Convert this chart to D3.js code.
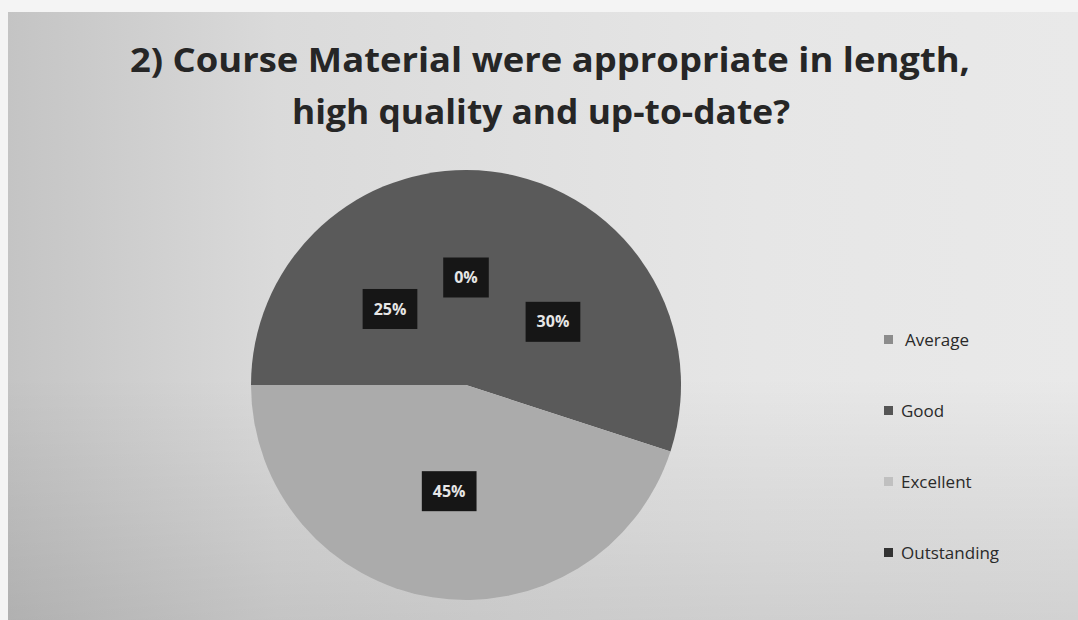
<!DOCTYPE html>
<html>
<head>
<meta charset="utf-8">
<script src="https://cdn.jsdelivr.net/npm/d3@7"></script>
<style>
  body { margin: 0; background: #e2e2e2; }
  svg { display: block; }
</style>
</head>
<body>
<div id="chart"></div>
<script>
const categories = ["Average", "Good", "Excellent", "Outstanding"];
const values = [0, 30, 45, 25];
const labels = ["0%", "30%", "45%", "25%"];
const colors = ["#8a8a8a", "#5a5a5a", "#ababab", "#5a5a5a"];
const legendColors = ["#8c8c8c", "#555555", "#c0c0c0", "#333333"];
const titleLines = ["2) Course Material were appropriate in length,", "high quality and up-to-date?"];

const width = 1078;
const height = 620;
const cx = 466, cy = 385, radius = 215;

const svg = d3.select("#chart")
    .append("svg")
    .attr("width", width)
    .attr("height", height);

// photo-ish background: darker at the left, lighter to the right
const defs = svg.append("defs");
const bg = defs.append("linearGradient").attr("id", "bg").attr("x1", 0).attr("x2", 1).attr("y1", 0).attr("y2", 0);
bg.append("stop").attr("offset", 0).attr("stop-color", "#c4c4c4");
bg.append("stop").attr("offset", 0.25).attr("stop-color", "#dadada");
bg.append("stop").attr("offset", 0.7).attr("stop-color", "#e6e6e6");
bg.append("stop").attr("offset", 1).attr("stop-color", "#e9e9e9");
const shade = defs.append("linearGradient").attr("id", "shade").attr("x1", 0).attr("x2", 0).attr("y1", 0).attr("y2", 1);
shade.append("stop").attr("offset", 0.6).attr("stop-color", "#000").attr("stop-opacity", 0);
shade.append("stop").attr("offset", 1).attr("stop-color", "#000").attr("stop-opacity", 0.1);

svg.append("rect").attr("width", width).attr("height", height).attr("fill", "#f4f4f4");
svg.append("rect").attr("x", 8).attr("y", 12).attr("width", width - 8).attr("height", height - 12).attr("fill", "url(#bg)");
svg.append("rect").attr("x", 8).attr("y", 12).attr("width", width - 8).attr("height", height - 12).attr("fill", "url(#shade)");

// title
svg.append("g")
    .selectAll("text")
    .data(titleLines)
    .join("text")
    .attr("x", (d, i) => i === 0 ? 130 : 292)
    .attr("y", (d, i) => 72 + i * 52)
    .attr("textLength", (d, i) => i === 0 ? 840 : 498)
    .attr("lengthAdjust", "spacingAndGlyphs")
    .attr("font-family", "'Open Sans', Lato, sans-serif")
    .attr("font-weight", "bold")
    .attr("font-size", 34)
    .attr("fill", "#262626")
    .text(d => d);

// pie
const pie = d3.pie().sort(null).value(d => d)(values);
const arc = d3.arc().innerRadius(0).outerRadius(radius);
const labelArc = d3.arc().innerRadius(radius * 1.0).outerRadius(radius * 0.0);

const g = svg.append("g").attr("transform", `translate(${cx},${cy})`);
g.selectAll("path")
    .data(pie)
    .join("path")
    .attr("d", arc)
    .attr("fill", (d, i) => colors[i]);

const lab = g.selectAll("g.lab")
    .data(pie)
    .join("g")
    .attr("class", "lab")
    .attr("transform", d => `translate(${labelArc.centroid(d)})`);

lab.append("text")
    .attr("text-anchor", "middle")
    .attr("dy", "0.35em")
    .attr("font-family", "'Open Sans', sans-serif")
    .attr("font-weight", "bold")
    .attr("font-size", 16)
    .attr("fill", "#e6e6e6")
    .text((d, i) => labels[i]);

lab.each(function() {
    const t = d3.select(this).select("text");
    const b = t.node().getBBox();
    d3.select(this).insert("rect", "text")
        .attr("x", b.x - 11)
        .attr("y", -20)
        .attr("width", b.width + 22)
        .attr("height", 40)
        .attr("fill", "#161616");
});

// legend
const legend = svg.append("g")
    .selectAll("g")
    .data(categories)
    .join("g")
    .attr("transform", (d, i) => `translate(884,${340 + i * 71})`);

legend.append("rect")
    .attr("x", 0)
    .attr("y", -5)
    .attr("width", 9)
    .attr("height", 9)
    .attr("fill", (d, i) => legendColors[i]);

legend.append("text")
    .attr("x", (d, i) => i === 0 ? 21 : 17)
    .attr("dy", "0.35em")
    .attr("font-family", "'Open Sans', sans-serif")
    .attr("font-size", 17)
    .attr("fill", "#2a2a2a")
    .text(d => d);
</script>
</body>
</html>
